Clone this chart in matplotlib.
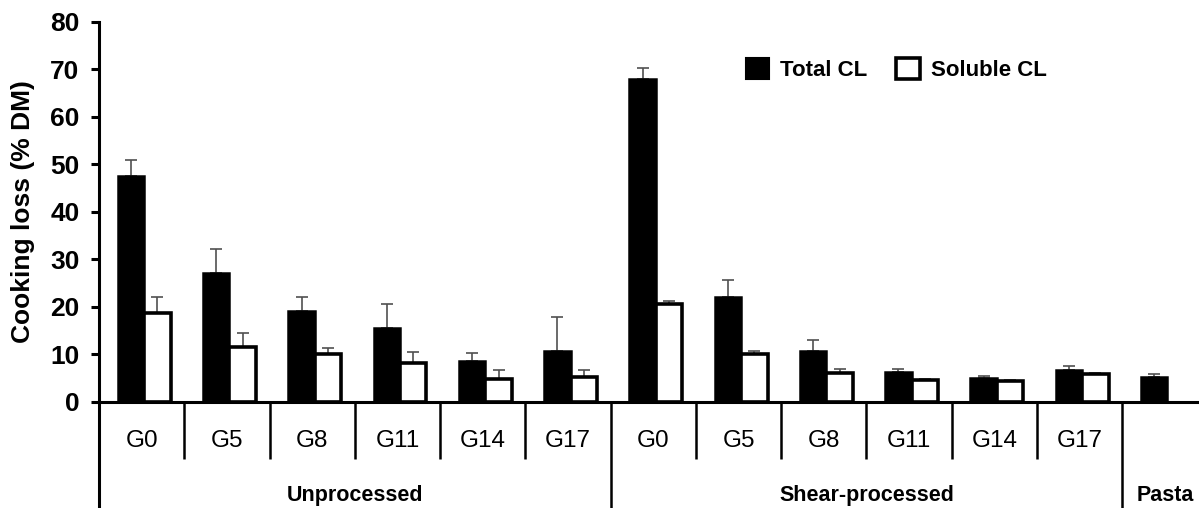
import numpy as np
import matplotlib.pyplot as plt
from matplotlib.patches import Patch

plt.rcParams['font.family'] = ['Liberation Sans', 'DejaVu Sans']

# cooking loss, % dry matter (mean and upper SD)
samples = ["G0", "G5", "G8", "G11", "G14", "G17",
           "G0", "G5", "G8", "G11", "G14", "G17", ""]
groups = ["Unprocessed", "Shear-processed", "Pasta"]
group_bounds = [(0, 6), (6, 12), (12, 13)]

total_cl = [47.5, 27.1, 19.2, 15.5, 8.7, 10.8,
            67.9, 22.2, 10.8, 6.4, 5.0, 6.7, 5.3]
total_sd = [3.5, 5.1, 3.0, 5.2, 1.7, 7.1,
            2.5, 3.5, 2.3, 0.6, 0.5, 0.9, 0.5]
soluble_cl = [18.8, 11.5, 10.1, 8.3, 4.9, 5.3,
              20.6, 10.1, 6.1, 4.6, 4.4, 5.8]
soluble_sd = [3.4, 3.1, 1.3, 2.2, 1.8, 1.4,
              0.7, 0.7, 0.9, 0.3, 0.3, 0.3]

fig = plt.figure(figsize=(11.99, 5.08), dpi=100)
ax = fig.add_axes([0.0826, 0.2087, 1 - 0.0826, 0.748])

x = np.arange(len(total_cl))
xs = np.arange(len(soluble_cl))
w = 0.31
err_kw = dict(ecolor="#505050", elinewidth=1.2, capsize=4.5, capthick=1.2, zorder=1)

ax.bar(x + 0.375, total_cl, w, color="black", edgecolor="black", linewidth=1.8,
       zorder=2)
ax.errorbar(x + 0.375, total_cl, yerr=[np.zeros(len(total_sd)), total_sd],
            fmt="none", **err_kw)
ax.bar(xs + 0.685, soluble_cl, w, color="white", edgecolor="black", linewidth=2.6,
       zorder=2)
ax.errorbar(xs + 0.685, soluble_cl, yerr=[np.zeros(len(soluble_sd)), soluble_sd],
            fmt="none", **err_kw)

ax.set_xlim(0, 12.9)
ax.set_ylim(0, 80)
ax.set_yticks(np.arange(0, 81, 10))
ax.set_xticks([])
ax.tick_params(axis="y", direction="out", length=6, width=2.2, pad=8,
               labelsize=19)
for lab in ax.get_yticklabels():
    lab.set_fontweight("bold")
for s in ["top", "right"]:
    ax.spines[s].set_visible(False)
for s in ["left", "bottom"]:
    ax.spines[s].set_linewidth(2.2)

ax.set_ylabel("Cooking loss (% DM)", fontsize=19, fontweight="bold")
ax.yaxis.set_label_coords(-0.058, 0.5)

# category table under the axis
tr = ax.get_xaxis_transform()
ax.plot([0, 0], [0, -0.285], transform=tr, color="black", lw=2.2,
        clip_on=False, solid_capstyle="butt")
for i in range(1, len(samples)):
    bottom = -0.285 if i in (6, 12) else -0.15
    ax.plot([i, i], [0, bottom], transform=tr, color="black", lw=1.8,
            clip_on=False, solid_capstyle="butt")
for i, s in enumerate(samples):
    ax.text(i + 0.5, -0.103, s, transform=tr, ha="center", va="center",
            fontsize=17.5)
for g, (a, b) in zip(groups, group_bounds):
    ax.text((a + b) / 2, -0.245, g, transform=tr, ha="center", va="center",
            fontsize=15.5, fontweight="bold")

handles = [Patch(facecolor="black", edgecolor="black", linewidth=1.5),
           Patch(facecolor="white", edgecolor="black", linewidth=2.6)]
ax.legend(handles, ["Total CL", "Soluble CL"], loc="upper left",
          bbox_to_anchor=(0.588, 0.905), ncol=2, frameon=False,
          prop={"size": 16, "weight": "bold"}, handlelength=1.05,
          handleheight=1.05, handletextpad=0.5, columnspacing=1.3,
          borderaxespad=0, borderpad=0)

fig.savefig("out.png", dpi=100)
